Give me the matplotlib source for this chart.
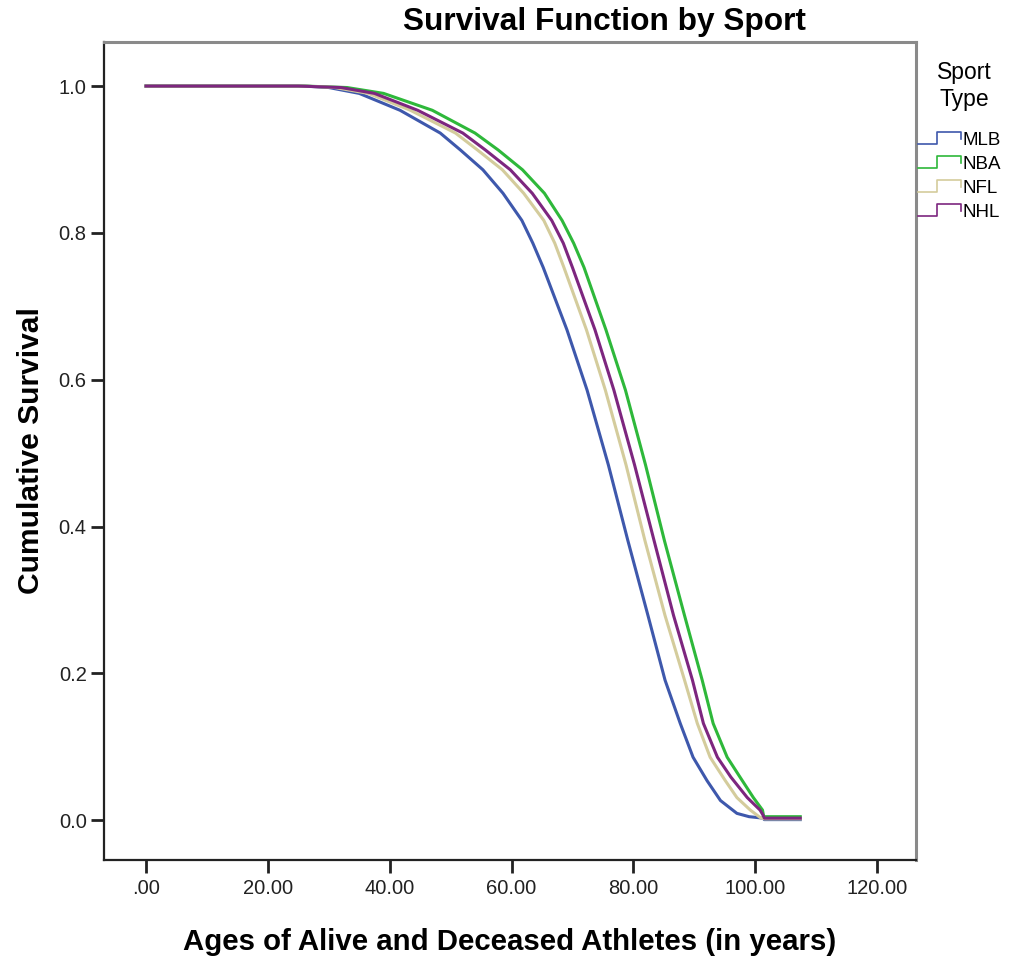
import matplotlib
matplotlib.use('Agg')
import matplotlib.pyplot as plt
from matplotlib.lines import Line2D
from matplotlib.legend_handler import HandlerBase

plt.rcParams['font.family'] = ['Liberation Sans', 'DejaVu Sans']

# survival curves (age in years, cumulative survival)
ages_mlb = [0, 26, 30, 35, 41.7, 48.3, 51.6, 55.3, 58.6, 61.7, 63.5, 65.2, 69.1, 72.4, 75.9, 79.1,
            82.4, 85.2, 87.7, 89.8, 92.1, 94.3, 97.0, 99.0, 101.3, 101.5, 107.4]
surv_mlb = [1.0, 1.0, 0.998, 0.99, 0.967, 0.936, 0.913, 0.886, 0.854, 0.817, 0.786, 0.753, 0.668, 0.586, 0.484, 0.381,
            0.279, 0.191, 0.132, 0.086, 0.054, 0.027, 0.0095, 0.005, 0.003, 0.001, 0.001]

ages_nba = [0, 26, 33, 39, 47.0, 54.0, 57.8, 61.8, 65.4, 68.3, 70.2, 71.9, 75.5, 78.7, 82.0, 85.1,
            88.4, 91.3, 93.1, 95.4, 97.5, 99.7, 101.2, 101.4, 107.4]
surv_nba = [1.0, 1.0, 0.998, 0.99, 0.967, 0.936, 0.913, 0.886, 0.854, 0.817, 0.786, 0.753, 0.668, 0.586, 0.484, 0.381,
            0.279, 0.191, 0.132, 0.086, 0.059, 0.031, 0.014, 0.005, 0.005]

ages_nfl = [0, 26, 31, 36.5, 43.4, 50.8, 54.4, 58.5, 62.0, 65.3, 67.1, 68.6, 72.3, 75.4, 78.8, 81.9,
            85.2, 88.4, 90.5, 92.6, 95.1, 97.0, 99.2, 100.8, 101.5, 107.4]
surv_nfl = [1.0, 1.0, 0.998, 0.99, 0.967, 0.936, 0.913, 0.886, 0.854, 0.817, 0.786, 0.753, 0.668, 0.586, 0.484, 0.381,
            0.279, 0.191, 0.132, 0.086, 0.054, 0.031, 0.014, 0.004, 0.002, 0.002]

ages_nhl = [0, 25, 32, 37.5, 44.6, 52.0, 55.7, 59.8, 63.4, 66.6, 68.5, 70.0, 73.7, 76.8, 80.2, 83.4,
            86.6, 89.7, 91.5, 93.8, 96.0, 98.7, 100.8, 101.3, 101.5, 107.4]
surv_nhl = [1.0, 1.0, 0.998, 0.99, 0.967, 0.936, 0.913, 0.886, 0.854, 0.817, 0.786, 0.753, 0.668, 0.586, 0.484, 0.381,
            0.279, 0.191, 0.132, 0.086, 0.059, 0.031, 0.014, 0.007, 0.003, 0.003]

sports = ['MLB', 'NBA', 'NFL', 'NHL']
colors = ['#3e58ac', '#2eb83a', '#d4cc9c', '#7d267f']

x_ticks = [0, 20, 40, 60, 80, 100, 120]
x_ticklabels = ['.00', '20.00', '40.00', '60.00', '80.00', '100.00', '120.00']
y_ticks = [0.0, 0.2, 0.4, 0.6, 0.8, 1.0]
y_ticklabels = ['0.0', '0.2', '0.4', '0.6', '0.8', '1.0']


class StepHandler(HandlerBase):
    # legend icon drawn as a little step, like SPSS does
    def create_artists(self, legend, orig_handle, xdescent, ydescent, width, height, fontsize, trans):
        x0 = -xdescent
        y0 = -ydescent
        xs = [x0, x0 + 0.45 * width, x0 + 0.45 * width, x0 + width, x0 + width]
        ys = [y0 + 0.1 * height, y0 + 0.1 * height, y0 + 0.95 * height, y0 + 0.95 * height, y0 + 0.45 * height]
        ln = Line2D(xs, ys, color=orig_handle.get_color(), lw=1.2)
        ln.set_transform(trans)
        return [ln]


fig = plt.figure(figsize=(10.10, 9.57), dpi=100)
ax = fig.add_axes([104/1010, 1 - 860/957, (916-104)/1010, (860-42)/957])

data = [(ages_mlb, surv_mlb), (ages_nba, surv_nba), (ages_nfl, surv_nfl), (ages_nhl, surv_nhl)]
handles = []
for (a, s), name, c in zip(data, sports, colors):
    h, = ax.plot(a, s, color=c, lw=2.2, label=name)
    handles.append(h)

ax.set_xlim(-6.9, 126.4)
ax.set_ylim(-0.054, 1.06)
ax.set_xticks(x_ticks)
ax.set_xticklabels(x_ticklabels)
ax.set_yticks(y_ticks)
ax.set_yticklabels(y_ticklabels)
ax.tick_params(axis='both', direction='out', length=9.5, width=2, labelsize=14.5, colors='#222222', pad=3)
ax.tick_params(axis='x', pad=4)

for sp in ['left', 'bottom']:
    ax.spines[sp].set_color('#222222')
    ax.spines[sp].set_linewidth(1.6)
for sp in ['top', 'right']:
    ax.spines[sp].set_color('#8a8a8a')
    ax.spines[sp].set_linewidth(2.2)

ax.set_xlabel('Ages of Alive and Deceased Athletes (in years)', fontsize=21.2, fontweight='bold', labelpad=22)
ax.set_ylabel('Cumulative Survival', fontsize=21.6, fontweight='bold', labelpad=10)

fig.text(604/1010, 1 - 22/957, 'Survival Function by Sport', fontsize=22.8, fontweight='bold',
         ha='center', va='center')

# legend title done by hand so it can sit centred above the entries
fig.text(964/1010, 1 - 86/957, 'Sport\nType', fontsize=16.5, ha='center', va='center',
         multialignment='center', linespacing=1.2)

leg = fig.legend(handles=handles, labels=sports, handler_map={Line2D: StepHandler()},
                 loc='upper left', bbox_to_anchor=(918/1010, 1 - 131/957), frameon=False,
                 fontsize=13.5, handlelength=2.3, handleheight=0.8, handletextpad=0.05,
                 labelspacing=0.34, borderpad=0, borderaxespad=0)

fig.savefig('out.png', dpi=100)
